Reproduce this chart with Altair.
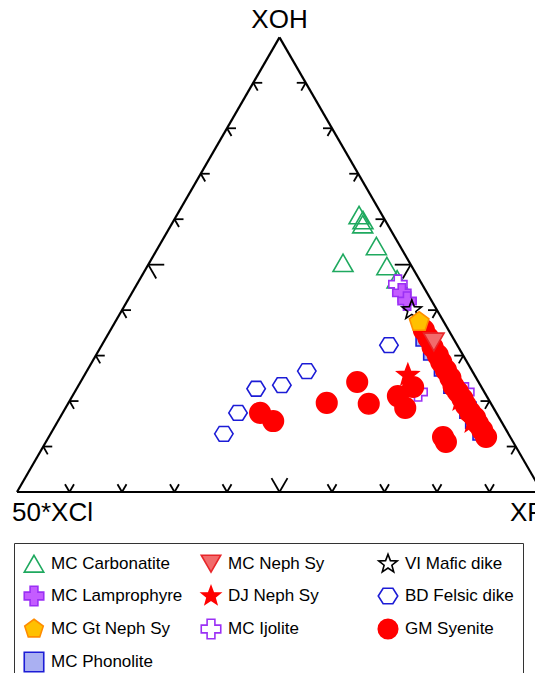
import altair as alt
import pandas as pd
import numpy as np

# ---------------- data (percent: XOH, 50*XCl, XF) ----------------
carb_xoh = [60.9, 59.8, 58.9, 54.1, 50.4, 49.7, 46.8]
carb_xcl = [4.4, 4.2, 4.7, 4.5, 12.7, 4.7, 4.2]
carb_xf = [34.7, 36.0, 36.4, 41.4, 36.9, 45.6, 49.0]

lamp_xoh = [43.8, 42.0]
lamp_xcl = [4.8, 4.7]
lamp_xf = [51.4, 53.3]

ijo_xoh = [45.7, 22.0, 22.0]
ijo_xcl = [4.6, 12.6, 3.7]
ijo_xf = [49.7, 65.4, 74.3]

vi_xoh = [40.0]
vi_xcl = [4.8]
vi_xf = [55.2]

gt_xoh = [37.4]
gt_xcl = [4.7]
gt_xf = [57.9]

neph_xoh = [33.0]
neph_xcl = [4.1]
neph_xf = [62.9]

dj_xoh = [25.7, 15.4, 20.2]
dj_xcl = [12.7, 5.6, 5.5]
dj_xf = [61.6, 79.0, 74.3]

phon_xoh = [33.9, 30.8, 27.3, 23.5, 18.0, 15.8, 13.2]
phon_xcl = [5.5, 5.6, 5.3, 5.4, 5.1, 5.1, 5.0]
phon_xf = [60.6, 63.6, 67.4, 71.1, 76.9, 79.1, 81.8]

bd_xoh = [12.8, 17.4, 22.7, 23.5, 26.6, 32.3]
bd_xcl = [54.2, 49.2, 43.1, 37.8, 31.5, 13.0]
bd_xf = [33.0, 33.4, 34.2, 38.7, 41.9, 54.7]

gm_xoh = [35.6, 33.9, 31.9, 30.1, 28.6, 26.8, 25.1, 23.3, 22.0, 20.5, 19.1, 17.6,
          16.3, 15.0, 13.6, 12.1,
          17.4, 15.6, 19.6, 24.2, 19.4, 21.1, 18.5, 23.1, 12.1, 11.0]
gm_xcl = [4.7, 4.7, 4.9, 4.8, 4.9, 4.9, 4.9, 5.2, 5.0, 4.9, 5.0, 4.9,
          4.6, 4.7, 4.6, 4.6,
          45.0, 43.4, 31.2, 23.1, 23.3, 16.9, 16.8, 13.0, 12.8, 12.8]
gm_xf = [59.7, 61.4, 63.2, 65.1, 66.5, 68.3, 70.0, 71.5, 73.0, 74.6, 75.9, 77.5,
         79.1, 80.3, 81.8, 83.3,
         37.6, 41.0, 49.2, 52.7, 57.3, 62.0, 64.7, 63.9, 75.1, 76.2]

axis_names = ["XOH", "50*XCl", "XF"]
tick_fracs = [0.1, 0.2, 0.3, 0.4, 0.5, 0.6, 0.7, 0.8, 0.9]

# legend domain order (Vega packs a 3-column vertical legend into 4 rows)
groups = ["MC Carbonatite", "MC Lamprophyre", "MC Gt Neph Sy", "GM Syenite",
          "MC Neph Sy", "DJ Neph Sy", "MC Ijolite", "MC Phonolite",
          "VI Mafic dike", "BD Felsic dike"]

# ---------------- styles ----------------
def poly_path(n, rot_deg, radii):
    pts = []
    for k in range(n):
        a = np.deg2rad(rot_deg + 360.0 * k / n)
        r = radii[k % len(radii)]
        pts.append((r * np.cos(a), r * np.sin(a)))
    return "M" + " L".join(f"{x:.3f},{y:.3f}" for x, y in pts) + " Z"

star = poly_path(10, -90, [1.0, 0.42])
pentagon = poly_path(5, -90, [1.0])
hexagon = "M-1,0 L-0.5,-0.8 L0.5,-0.8 L1,0 L0.5,0.8 L-0.5,0.8 Z"

style = {
    "MC Carbonatite": ("triangle-up", "transparent", "#1fa95f", 400),
    "MC Neph Sy": ("triangle-down", "#f26b6b", "#e8262a", 420),
    "VI Mafic dike": (star, "transparent", "#000000", 420),
    "MC Lamprophyre": ("cross", "#c45cff", "#9b30f5", 330),
    "DJ Neph Sy": (star, "#ff0000", "#ff0000", 500),
    "BD Felsic dike": (hexagon, "transparent", "#1c1cd6", 340),
    "MC Gt Neph Sy": (pentagon, "#ffc000", "#ff8c00", 420),
    "MC Ijolite": ("cross", "#ffffff", "#9b30f5", 330),
    "GM Syenite": ("circle", "#ff0000", "#ff0000", 420),
    "MC Phonolite": ("square", "#aab0f2", "#1c1cd6", 260),
}

# ---------------- build tables ----------------
draw_order = [
    ("MC Phonolite", phon_xoh, phon_xcl, phon_xf),
    ("MC Carbonatite", carb_xoh, carb_xcl, carb_xf),
    ("BD Felsic dike", bd_xoh, bd_xcl, bd_xf),
    ("MC Ijolite", ijo_xoh, ijo_xcl, ijo_xf),
    ("MC Lamprophyre", lamp_xoh, lamp_xcl, lamp_xf),
    ("VI Mafic dike", vi_xoh, vi_xcl, vi_xf),
    ("DJ Neph Sy", dj_xoh, dj_xcl, dj_xf),
    ("GM Syenite", gm_xoh, gm_xcl, gm_xf),
    ("MC Gt Neph Sy", gt_xoh, gt_xcl, gt_xf),
    ("MC Neph Sy", neph_xoh, neph_xcl, neph_xf),
]
S3 = np.sqrt(3) / 2
rows = []
for g, a, b, c in draw_order:
    for xoh, xcl, xf in zip(a, b, c):
        s = xoh + xcl + xf
        rows.append({"group": g, "XOH": xoh, "XCl50": xcl, "XF": xf,
                     "x": (xf + xoh / 2) / s, "y": xoh / s * S3,
                     "sz": style[g][3]})
pts = pd.DataFrame(rows)

A = np.array([0.0, 0.0])   # 50*XCl
B = np.array([1.0, 0.0])   # XF
C = np.array([0.5, S3])    # XOH
edges = pd.DataFrame([
    {"x": A[0], "y": A[1], "x2": B[0], "y2": B[1]},
    {"x": B[0], "y": B[1], "x2": C[0], "y2": C[1]},
    {"x": C[0], "y": C[1], "x2": A[0], "y2": A[1]},
])

UNIT = 525.0
d_ul = np.array([-0.5, S3]); d_ur = np.array([0.5, S3])
d_r = np.array([1.0, 0.0]); d_l = np.array([-1.0, 0.0])
d_dr = np.array([0.5, -S3]); d_dl = np.array([-0.5, -S3])
edge_defs = [(A, B, [d_ul, d_ur]), (A, C, [d_r, d_dr]), (B, C, [d_l, d_dl])]
trows = []
for P0, P1, dirs in edge_defs:
    for t in tick_fracs:
        P = P0 + t * (P1 - P0)
        L = (16 if abs(t - 0.5) < 1e-9 else 9) / UNIT
        for d in dirs:
            Q = P + L * d
            trows.append({"x": P[0], "y": P[1], "x2": Q[0], "y2": Q[1]})
ticks = pd.DataFrame(trows)

labels = pd.DataFrame([
    {"label": axis_names[0], "x": C[0], "y": C[1], "al": "center", "dx": 0, "dy": -17},
    {"label": axis_names[1], "x": A[0], "y": A[1], "al": "left", "dx": -5, "dy": 21},
    {"label": axis_names[2], "x": B[0], "y": B[1], "al": "left", "dx": -32, "dy": 21},
])

# ---------------- scales ----------------
W, H = 535, 673
x0px, y0px = 17.0, 492.0
xs = alt.Scale(domain=[-x0px / UNIT, (W - x0px) / UNIT], nice=False, zero=False)
ys = alt.Scale(domain=[(y0px - H) / UNIT, y0px / UNIT], nice=False, zero=False)
X = alt.X("x:Q", scale=xs, axis=None)
Y = alt.Y("y:Q", scale=ys, axis=None)

FONT = "Liberation Sans"

edge_layer = alt.Chart(edges).mark_rule(color="black", strokeWidth=2.2).encode(
    x=X, y=Y, x2="x2:Q", y2="y2:Q")
tick_layer = alt.Chart(ticks).mark_rule(color="black", strokeWidth=1.8).encode(
    x=X, y=Y, x2="x2:Q", y2="y2:Q")

label_layers = []
for _, r in labels.iterrows():
    label_layers.append(
        alt.Chart(labels[labels["label"] == r["label"]]).mark_text(
            font=FONT, fontSize=26, color="black", align=r["al"],
            baseline="middle", dx=int(r["dx"]), dy=int(r["dy"])
        ).encode(x=X, y=Y, text="label:N")
    )

leg = alt.Legend(
    title=None, orient="none", legendX=14, legendY=543, columns=3,
    gridAlign="all", columnPadding=15, rowPadding=7, symbolSize=380,
    symbolStrokeWidth=1.6, labelFont=FONT, labelFontSize=17, labelColor="black",
    labelOffset=6, strokeColor="#333333", fillColor="white", padding=9,
    labelLimit=300,
)

point_layer = alt.Chart(pts).mark_point(opacity=1, strokeWidth=1.6).encode(
    x=X, y=Y,
    shape=alt.Shape("group:N", scale=alt.Scale(domain=groups, range=[style[g][0] for g in groups]), legend=leg),
    fill=alt.Fill("group:N", scale=alt.Scale(domain=groups, range=[style[g][1] for g in groups]), legend=leg),
    stroke=alt.Stroke("group:N", scale=alt.Scale(domain=groups, range=[style[g][2] for g in groups]), legend=leg),
    size=alt.Size("sz:Q", scale=None),
)

chart = alt.layer(edge_layer, tick_layer, *label_layers, point_layer).properties(
    width=W, height=H, padding=0, autosize=alt.AutoSizeParams(type="none"),
    background="white",
).configure_view(stroke=None)

chart.save("out.html", embed_options={"renderer": "svg", "actions": False})
